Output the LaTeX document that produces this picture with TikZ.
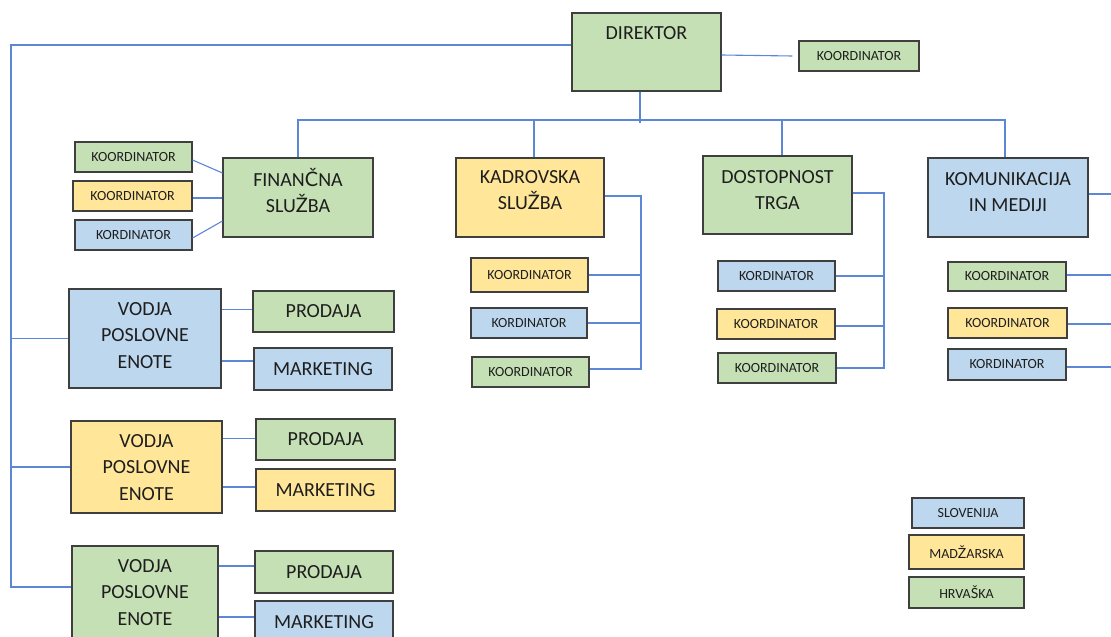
\documentclass[tikz,border=0pt]{standalone}
\usepackage{fontspec}
\setmainfont{Carlito}
\newfontfamily\latofont{Lato}
\usetikzlibrary{calc}
\definecolor{gfill}{HTML}{C5E0B4}
\definecolor{yfill}{HTML}{FFE699}
\definecolor{bfill}{HTML}{BDD7EE}
\definecolor{edgec}{HTML}{3F3F3F}
\definecolor{linec}{HTML}{5B87D6}
\definecolor{ink}{HTML}{1E1E1E}
\newcommand\stackl[1]{\begin{tabular}[t]{@{}c@{}}#1\end{tabular}}
\newcommand\latoch[1]{{\latofont #1}}
\tikzset{
  box/.style={draw=edgec, line width=1.1pt, inner sep=0pt, text=ink},
  gbox/.style={box, fill=gfill},
  ybox/.style={box, fill=yfill},
  bbox/.style={box, fill=bfill},
  sz/.style 2 args={minimum width=#1pt, minimum height=#2pt},
  sm/.style={font=\fontsize{14pt}{17pt}\selectfont},
  big/.style={font=\fontsize{20pt}{26.5pt}\selectfont},
  lbl/.style={text=ink, inner sep=0pt, anchor=base, big},
  conn/.style={draw=linec, line width=1.1pt},
}
\begin{document}
\begin{tikzpicture}[x=1pt, y=-1pt]
\useasboundingbox (0,0) rectangle (1111,637);
\clip (0,0) rectangle (1111,637);
\fill[white] (0,0) rectangle (1111,637);

% top
\node[gbox, sz={149}{78}] (dir) at (646.5,52) {};
\node[lbl] (dirT) at (646.5,39) {DIREKTOR};
\node[gbox, sz={120}{30}, sm] (k0) at (859,56) {KOORDINATOR};

% finance
\node[gbox, sz={150}{79}] (fin) at (298,197.5) {};
\node[lbl] (finT) at (298,186) {\stackl{FINAN\latoch{Č}NA\\SLU\latoch{Ž}BA}};
\node[gbox, sz={117}{30}, sm] (fk1) at (133.5,157) {KOORDINATOR};
\node[ybox, sz={119}{30}, sm] (fk2) at (132.5,196) {KOORDINATOR};
\node[bbox, sz={117}{30}, sm] (fk3) at (133.5,235) {KORDINATOR};

% kadrovska
\node[ybox, sz={148}{79}] (kad) at (530,197.5) {};
\node[lbl] (kadT) at (530,183) {\stackl{KADROVSKA\\SLU\latoch{Ž}BA}};
\node[ybox, sz={117}{34}, sm] (kk1) at (529.5,275) {KOORDINATOR};
\node[bbox, sz={116}{30}, sm] (kk2) at (529,323) {KORDINATOR};
\node[gbox, sz={117}{30}, sm] (kk3) at (530.5,372) {KOORDINATOR};

% dostopnost
\node[gbox, sz={149}{78}] (dos) at (777.5,195) {};
\node[lbl] (dosT) at (777.5,183) {\stackl{DOSTOPNOST\\TRGA}};
\node[bbox, sz={117}{30}, sm] (dk1) at (776.5,276) {KORDINATOR};
\node[ybox, sz={118}{30}, sm] (dk2) at (776,324) {KOORDINATOR};
\node[gbox, sz={118}{30}, sm] (dk3) at (777,368) {KOORDINATOR};

% komunikacija
\node[bbox, sz={160}{79}] (kom) at (1008,197.5) {};
\node[lbl] (komT) at (1008,185) {\stackl{KOMUNIKACIJA\\IN MEDIJI}};
\node[gbox, sz={118}{29}, sm] (mk1) at (1007,276.5) {KOORDINATOR};
\node[ybox, sz={119}{30}, sm] (mk2) at (1007.5,323) {KOORDINATOR};
\node[bbox, sz={118}{31}, sm] (mk3) at (1007,364.5) {KORDINATOR};

% business units
\node[bbox, sz={152}{99}] (v1) at (145,338.5) {};
\node[lbl] (v1T) at (145,315) {\stackl{VODJA\\POSLOVNE\\ENOTE}};
\node[gbox, sz={141}{41}, big] (p1) at (323.5,311.5) {PRODAJA};
\node[bbox, sz={138}{42}, big] (m1) at (323,369) {MARKETING};

\node[ybox, sz={151}{92}] (v2) at (146.5,467) {};
\node[lbl] (v2T) at (146.5,447) {\stackl{VODJA\\POSLOVNE\\ENOTE}};
\node[gbox, sz={139}{41}, big] (p2) at (325.5,439.5) {PRODAJA};
\node[ybox, sz={139}{42}, big] (m2) at (325.5,490) {MARKETING};

\node[gbox, sz={146}{100}] (v3) at (145,596) {};
\node[lbl] (v3T) at (145,572) {\stackl{VODJA\\POSLOVNE\\ENOTE}};
\node[gbox, sz={138}{42}, big] (p3) at (324,572) {PRODAJA};
\node[bbox, sz={138}{42}, big] (m3) at (324,622) {MARKETING};

% legend
\node[bbox, sz={112}{30}, sm] (ls) at (968,513) {SLOVENIJA};
\node[ybox, sz={115}{34}, sm] (lm) at (966.5,552) {MAD\latoch{Ž}ARSKA};
\node[gbox, sz={115}{31}, sm] (lh) at (966.5,592.5) {HRVA\latoch{Š}KA};

% coordinates
\coordinate (trunk) at (11,45);
\coordinate (bus) at (640,120);
\coordinate (dirdrop) at (640,123);
\coordinate (kadX) at (641,0);
\coordinate (dosX) at (884,0);
\coordinate (komX) at (1116,0);

% connectors: director
\draw[conn] ([yshift=7pt]dir.west) -- (trunk) -- ([yshift=9pt]v3.west -| trunk) -- ([yshift=9pt]v3.west);
\draw[conn] (v1.west -| trunk) -- (v1.west);
\draw[conn] (v2.west -| trunk) -- (v2.west);
\draw[conn] ([yshift=-3pt]dir.east) -- ([xshift=-6pt]k0.west);
\draw[conn] (dir.south -| dirdrop) -- (dirdrop);
\draw[conn] (fin.north) -- (fin.north |- bus) -- ([xshift=-3pt]kom.north |- bus) -- ([xshift=-3pt]kom.north);
\draw[conn] ([xshift=4pt]kad.north) -- ([xshift=4pt]kad.north |- bus);
\draw[conn] ([xshift=4.5pt]dos.north) -- ([xshift=4.5pt]dos.north |- bus);

% finance coordinators
\draw[conn] ([yshift=-3pt]fk1.east) -- ([yshift=24.5pt]fin.west);
\draw[conn] ([yshift=-2pt]fk2.east) -- ([yshift=-2pt]fk2.east -| fin.west);
\draw[conn] ([yshift=-3pt]fk3.east) -- ([yshift=-23.5pt]fin.west);

% kadrovska
\draw[conn] ([yshift=1.5pt]kad.east) -- ([yshift=1.5pt]kad.east -| kadX) -- ([yshift=3pt]kk3.east -| kadX) -- ([yshift=3pt]kk3.east);
\draw[conn] (kk1.east) -- (kk1.east -| kadX);
\draw[conn] (kk2.east) -- (kk2.east -| kadX);

% dostopnost
\draw[conn] ([yshift=2pt]dos.east) -- ([yshift=2pt]dos.east -| dosX) -- (dk3.east -| dosX) -- (dk3.east);
\draw[conn] (dk1.east) -- (dk1.east -| dosX);
\draw[conn] ([yshift=-2pt]dk2.east) -- ([yshift=-2pt]dk2.east -| dosX);

% komunikacija
\draw[conn] ([yshift=3.5pt]kom.east) -- ([yshift=3.5pt]kom.east -| komX) -- ([yshift=-2.5pt]mk3.east -| komX) -- ([yshift=-2.5pt]mk3.east);
\draw[conn] ([yshift=1.5pt]mk1.east) -- ([yshift=1.5pt]mk1.east -| komX);
\draw[conn] ([yshift=-1pt]mk2.east) -- ([yshift=-1pt]mk2.east -| komX);

% units
\draw[conn] ([yshift=2pt]p1.west -| v1.east) -- ([yshift=2pt]p1.west);
\draw[conn] ([yshift=8pt]m1.west -| v1.east) -- ([yshift=8pt]m1.west);
\draw[conn] ([yshift=1pt]p2.west -| v2.east) -- ([yshift=1pt]p2.west);
\draw[conn] ([yshift=3pt]m2.west -| v2.east) -- ([yshift=3pt]m2.west);
\draw[conn] ([yshift=6pt]p3.west -| v3.east) -- ([yshift=6pt]p3.west);
\draw[conn] ([yshift=5pt]m3.west -| v3.east) -- ([yshift=5pt]m3.west);
\end{tikzpicture}
\end{document}
